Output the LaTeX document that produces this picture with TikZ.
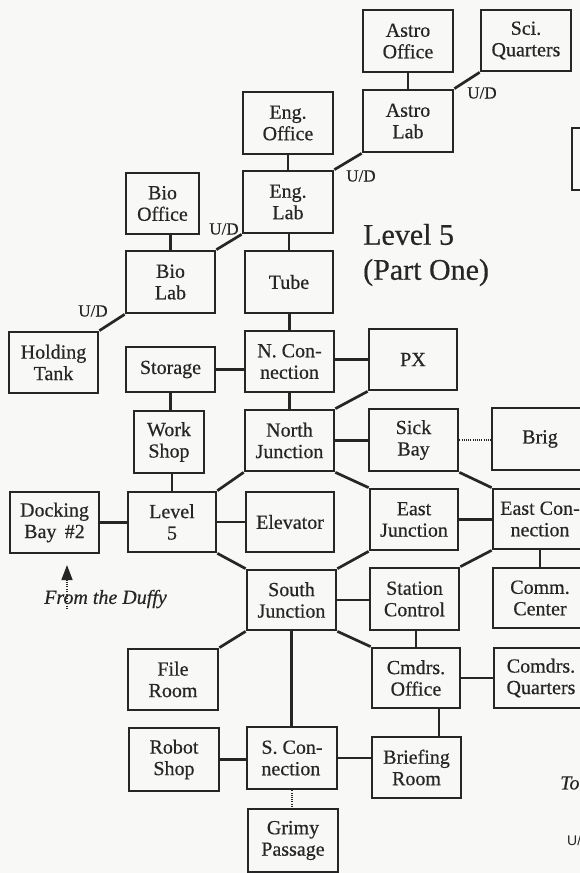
\documentclass[tikz,border=0pt]{standalone}
\usepackage{fontspec}
\setmainfont{Liberation Serif}[FakeBold=0.5]
\newfontfamily\uisans{Liberation Sans}
\usetikzlibrary{arrows.meta}
\definecolor{ink}{HTML}{262626}
\definecolor{paper}{HTML}{F8F8F6}
\begin{document}
\begin{tikzpicture}[x=1pt,y=-1pt,
  room/.style={draw=ink, line width=2.7pt, inner sep=0pt, align=center, text=ink,
    font=\fontsize{20}{21.5}\selectfont, minimum width=90pt, minimum height=62pt},
  link/.style={draw=ink, line width=2.7pt},
  dotlink/.style={draw=ink, line width=2pt, dash pattern=on 1pt off 1.2pt},
  udlabel/.style={text=ink, inner sep=0pt, font=\fontsize{17}{17}\selectfont},
  ]
\useasboundingbox (0,0) rectangle (580,873);
\fill[paper] (0,0) rectangle (580,873);
\clip (0,0) rectangle (580,873);

% rooms
\node[room] (ao) at (408,41) {Astro\\Office};
\node[room, minimum height=61pt] (sq) at (526,40.5) {Sci.\\Quarters};
\node[room] (al) at (408,121) {Astro\\Lab};
\node[room] (eo) at (288,123) {Eng.\\Office};
\node[room] (el) at (288,202) {Eng.\\Lab};
\node[room, minimum width=73pt, minimum height=61pt] (bo) at (162.5,203.5) {Bio\\Office};
\node[room, minimum width=89pt] (bl) at (170.5,282) {Bio\\Lab};
\node[room, minimum width=88pt] (tube) at (289,282) {Tube};
\node[room, minimum width=89pt, minimum height=61pt] (ht) at (53.5,362.5) {Holding\\Tank};
\node[room, minimum width=89pt, minimum height=45pt] (st) at (170.5,369.5) {Storage};
\node[room, minimum width=89pt, minimum height=61pt] (nc) at (289.5,361.5) {N. Con-\\nection};
\node[room, minimum width=88pt, minimum height=61pt] (px) at (413,359.5) {PX};
\node[room, minimum width=70pt] (ws) at (169,442) {Work\\Shop};
\node[room, minimum width=89pt, minimum height=61pt] (nj) at (289.5,440.5) {North\\Junction};
\node[room, minimum width=89pt] (sb) at (413.5,440) {Sick\\Bay};
\node[room, minimum width=96pt] (brig) at (540,439) {Brig};
\node[room, minimum width=88pt, minimum height=60pt] (l5) at (172,522) {Level\\5};
\node[room, minimum width=89pt, minimum height=61pt] (db) at (54.5,522.5) {Docking\\Bay \,\#2};
\node[room, minimum width=88pt, minimum height=60pt] (ev) at (290,522) {Elevator};
\node[room, minimum width=88pt, minimum height=61pt] (ej) at (414,519.5) {East\\Junction};
\node[room, minimum width=94pt, minimum height=60pt] (ec) at (540,519) {East Con-\\nection};
\node[room, minimum width=89pt, minimum height=60pt] (sj) at (291.5,600) {South\\Junction};
\node[room, minimum width=89pt] (sc) at (414.5,599) {Station\\Control};
\node[room, minimum width=94pt, minimum height=60pt] (cc) at (540,598) {Comm.\\Center};
\node[room, minimum height=61pt] (fr) at (173,679.5) {File\\Room};
\node[room, minimum width=88pt, minimum height=60pt] (co) at (416,678) {Cmdrs.\\Office};
\node[room, minimum width=94pt, minimum height=60pt] (cq) at (541,678) {Comdrs.\\Quarters};
\node[room, minimum height=63pt] (rs) at (174,759.5) {Robot\\Shop};
\node[room, align=left] (scon) at (292,758) {S. Con-\\nection};
\node[room, minimum width=89pt, minimum height=61pt] (br) at (416.5,767.5) {Briefing\\Room};
\node[room, minimum height=63pt] (gp) at (293,840.5) {Grimy\\Passage};
\node[room, minimum width=48pt] (edgebox) at (596,159) {};

% connectors
\draw[link] (ao.south) -- (al.north);
\draw[link] (al.north east) -- (sq.south west);
\draw[link] (eo.south) -- (el.north);
\draw[link] (el.north east) -- (al.south west);
\draw[link] (tube.north) -- (tube.north |- el.south);
\draw[link] (bl.north) -- (bl.north |- bo.south);
\draw[link] (bl.north east) -- (el.south west);
\draw[link] (bl.south west) -- (ht.north east);
\draw[link] (nc.north) -- (nc.north |- tube.south);
\draw[link] (st.east) -- (st.east -| nc.west);
\draw[link] (nc.east |- px.west) -- (px.west);
\draw[link] (nc.south) -- (nj.north);
\draw[link] (nj.north east) -- (px.south west);
\draw[link] (st.south) -- (st.south |- ws.north);
\draw[link] (l5.north) -- (l5.north |- ws.south);
\draw[link] (nj.east) -- (nj.east -| sb.west);
\draw[dotlink] (sb.east) -- (sb.east -| brig.west);
\draw[link] (db.east) -- (db.east -| l5.west);
\draw[link] (l5.east) -- (l5.east -| ev.west);
\draw[link] (l5.north east) -- (nj.south west);
\draw[link] (l5.south east) -- (sj.north west);
\draw[link] (nj.south east) -- (ej.north west);
\draw[link] (sb.south east) -- (ec.north west);
\draw[link] (ej.east) -- (ej.east -| ec.west);
\draw[link] (ec.south west) -- (sc.north east);
\draw[link] (ec.south) -- (ec.south |- cc.north);
\draw[link] (ej.south west) -- (sj.north east);
\draw[link] (sj.east) -- (sj.east -| sc.west);
\draw[link] (sj.south west) -- (fr.north east);
\draw[link] (sj.south east) -- (co.north west);
\draw[link] (co.north) -- (co.north |- sc.south);
\draw[link] (co.east) -- (co.east -| cq.west);
\draw[link] ([xshift=23pt]co.south) -- ([xshift=23pt]co.south |- br.north);
\draw[link] (sj.south) -- (sj.south |- scon.north);
\draw[link] (rs.east) -- (rs.east -| scon.west);
\draw[link] (scon.east) -- (scon.east -| br.west);
\draw[dotlink] (scon.south) -- (scon.south |- gp.north);

% U/D labels
\node[udlabel] (ud1) at (482,93) {U/D};
\node[udlabel] (ud2) at (361,176) {U/D};
\node[udlabel] (ud3) at (224,229) {U/D};
\node[udlabel] (ud4) at (93,311) {U/D};

% title
\node[text=ink, inner sep=0pt, align=left, anchor=west,
  font=\fontsize{30}{35}\selectfont] (title) at (363,255) {Level 5\\(Part One)};

% from the Duffy
\node[text=ink, inner sep=0pt, font=\fontsize{20}{20}\selectfont\itshape] (duffy) at (105.5,599) {From the Duffy};
\coordinate (duffytail) at (67,609);
\coordinate (duffytip) at (67,565);
\draw[draw=ink, line width=1.6pt, dash pattern=on 1pt off 1.4pt,
  -{Triangle[length=15pt,width=11pt,fill=ink]}] (duffytail) -- (duffytip);

% cut-off texts at right edge
\node[text=ink, inner sep=0pt, anchor=west, font=\fontsize{20}{20}\selectfont\itshape] (tonote) at (560,783) {To};
\node[text=ink, inner sep=0pt, anchor=west, font=\uisans\fontsize{14}{14}\selectfont] (udnote) at (567,840) {U/};
\end{tikzpicture}
\end{document}
